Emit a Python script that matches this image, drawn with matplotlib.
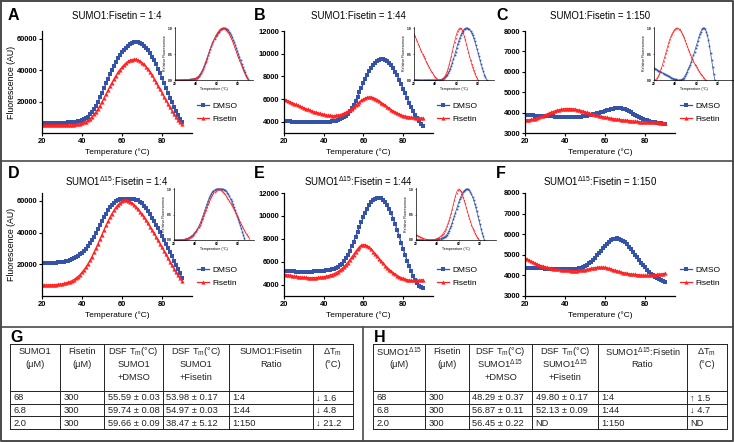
import numpy as np
import matplotlib
matplotlib.use('Agg')
import matplotlib.pyplot as plt

plt.rcParams['font.family'] = ['Liberation Sans', 'DejaVu Sans']
plt.rcParams['mathtext.fontset'] = 'custom'
plt.rcParams['mathtext.rm'] = 'Liberation Sans'
plt.rcParams['mathtext.it'] = 'Liberation Sans:italic'
plt.rcParams['mathtext.bf'] = 'Liberation Sans:bold'

W, H = 734, 442
temps = list(range(20, 91))

# ---------------- data (fluorescence, AU) ----------------
a_dmso = [6300, 6300, 6300, 6300, 6300, 6350, 6350, 6400, 6400, 6450, 6500,
          6550, 6600, 6700, 6800, 6900, 7000, 7200, 7400, 7700, 8100,
          8700, 9500, 10500, 11800, 13400, 15300, 17500, 20000, 22700, 25600,
          28600, 31600, 34600, 37500, 40300, 42900, 45300, 47500, 49500, 51300,
          52900, 54300, 55500, 56500, 57200, 57700, 57900, 57800, 57400, 56700,
          55700, 54400, 52800, 50900, 48700, 46300, 43700, 40900, 38000, 35000,
          31900, 28800, 25700, 22600, 19600, 16700, 14000, 11500, 9200, 7000]
a_fis = [4800, 4800, 4800, 4800, 4800, 4800, 4850, 4850, 4900, 4900, 4950,
         5000, 5050, 5100, 5200, 5300, 5400, 5550, 5700, 5950, 6250,
         6700, 7300, 8100, 9100, 10300, 11800, 13500, 15400, 17500, 19800,
         22200, 24700, 27200, 29700, 32100, 34400, 36600, 38600, 40400, 42000,
         43400, 44600, 45600, 46300, 46800, 47000, 46900, 46500, 45800, 44800,
         43700, 42300, 40700, 38900, 36900, 34700, 32400, 30000, 27800, 25500,
         23200, 20900, 18600, 16400, 14200, 12100, 10200, 8400, 6900, 5700]
b_dmso = [4050, 4040, 4030, 4020, 4010, 4000, 4000, 4000, 4000, 4000, 4000,
          4000, 4000, 4000, 4000, 4000, 4000, 4000, 4000, 4000, 4000,
          4000, 4000, 4010, 4020, 4040, 4080, 4130, 4200, 4290, 4400,
          4540, 4720, 4940, 5200, 5500, 5840, 6210, 6600, 7000, 7400,
          7790, 8150, 8480, 8770, 9010, 9200, 9350, 9450, 9500, 9500,
          9450, 9350, 9190, 8980, 8720, 8420, 8080, 7710, 7320, 6910,
          6490, 6070, 5660, 5270, 4910, 4580, 4290, 4040, 3830, 3660]
b_fis = [6000, 5920, 5840, 5760, 5680, 5600, 5520, 5440, 5360, 5290, 5220,
         5150, 5080, 5010, 4950, 4890, 4830, 4780, 4730, 4680, 4640,
         4600, 4570, 4550, 4540, 4540, 4550, 4570, 4610, 4660, 4730,
         4810, 4910, 5030, 5160, 5300, 5450, 5600, 5750, 5880, 6000,
         6090, 6150, 6180, 6170, 6120, 6040, 5940, 5820, 5690, 5560,
         5430, 5300, 5170, 5050, 4940, 4840, 4750, 4670, 4600, 4540,
         4490, 4450, 4420, 4390, 4370, 4350, 4340, 4330, 4320, 4320]
c_dmso = [3880, 3875, 3870, 3865, 3860, 3855, 3850, 3845, 3840, 3835, 3830,
          3825, 3820, 3815, 3810, 3805, 3800, 3795, 3790, 3790, 3785,
          3785, 3780, 3780, 3780, 3780, 3785, 3790, 3800, 3815, 3830,
          3850, 3870, 3890, 3910, 3935, 3960, 3990, 4020, 4050, 4080,
          4110, 4140, 4170, 4190, 4210, 4220, 4220, 4210, 4190, 4160,
          4120, 4070, 4010, 3950, 3890, 3830, 3780, 3730, 3690, 3650,
          3620, 3590, 3560, 3540, 3520, 3500, 3485, 3470, 3460, 3450]
c_fis = [3650, 3645, 3650, 3665, 3685, 3710, 3740, 3775, 3810, 3850, 3890,
         3930, 3970, 4010, 4050, 4085, 4115, 4140, 4160, 4180, 4190,
         4200, 4200, 4195, 4185, 4170, 4150, 4125, 4100, 4070, 4040,
         4010, 3980, 3950, 3920, 3895, 3870, 3845, 3820, 3800, 3780,
         3760, 3740, 3725, 3710, 3695, 3680, 3665, 3650, 3640, 3630,
         3620, 3610, 3600, 3590, 3580, 3570, 3560, 3555, 3550, 3545,
         3540, 3535, 3530, 3525, 3520, 3515, 3510, 3505, 3500, 3495]
d_dmso = [21000, 21000, 21000, 21000, 21000, 21000, 21050, 21100, 21200, 21300, 21500,
          21700, 22000, 22300, 22700, 23200, 23800, 24500, 25300, 26200, 27200,
          28400, 29800, 31400, 33200, 35200, 37400, 39800, 42300, 44800, 47300,
          49700, 52000, 54100, 56000, 57600, 58900, 59900, 60600, 61000, 61200,
          61300, 61300, 61300, 61300, 61200, 61100, 60800, 60300, 59500, 58400,
          57000, 55400, 53600, 51600, 49500, 47300, 45000, 42700, 40300, 37900,
          35400, 32900, 30300, 27700, 25100, 22400, 19700, 17000, 14200, 11300]
d_fis = [7000, 7000, 7000, 7000, 7050, 7100, 7150, 7250, 7350, 7500, 7700,
         7950, 8250, 8650, 9100, 9700, 10400, 11300, 12300, 13500, 14900,
         16500, 18300, 20300, 22500, 24900, 27500, 30200, 33000, 35900, 38800,
         41700, 44500, 47200, 49700, 52000, 54100, 56000, 57600, 58900, 59900,
         60400, 60500, 60200, 59600, 58700, 57600, 56300, 54800, 53200, 51500,
         49700, 47800, 45800, 43800, 41700, 39600, 37400, 35200, 33000, 30800,
         28500, 26200, 23900, 21600, 19400, 17200, 15100, 13100, 11200, 9500]
e_dmso = [5200, 5190, 5180, 5170, 5160, 5150, 5140, 5130, 5130, 5130, 5130,
          5130, 5130, 5130, 5140, 5150, 5160, 5170, 5180, 5200, 5220,
          5240, 5270, 5300, 5340, 5390, 5460, 5550, 5670, 5820, 6050,
          6300, 6600, 6950, 7330, 7740, 8170, 8610, 9050, 9480, 9890,
          10270, 10620, 10920, 11170, 11360, 11490, 11570, 11600, 11550, 11420,
          11220, 10950, 10610, 10210, 9760, 9270, 8750, 8210, 7660, 7110,
          6580, 6070, 5590, 5150, 4760, 4420, 4130, 3900, 3780, 3680]
e_fis = [4900, 4870, 4840, 4810, 4780, 4750, 4720, 4690, 4670, 4650, 4630,
         4620, 4610, 4600, 4600, 4600, 4610, 4620, 4640, 4660, 4690,
         4720, 4760, 4810, 4870, 4940, 5020, 5120, 5240, 5380, 5540,
         5720, 5920, 6140, 6380, 6620, 6870, 7100, 7300, 7440, 7500,
         7470, 7380, 7240, 7070, 6880, 6680, 6470, 6260, 6050, 5850,
         5660, 5480, 5310, 5160, 5020, 4900, 4790, 4690, 4600, 4530,
         4470, 4420, 4390, 4370, 4360, 4360, 4370, 4380, 4400, 4420]
f_dmso = [4380, 4375, 4370, 4365, 4360, 4355, 4350, 4345, 4340, 4335, 4330,
          4325, 4320, 4315, 4310, 4305, 4300, 4300, 4295, 4295, 4290,
          4290, 4290, 4295, 4300, 4310, 4325, 4345, 4375, 4410, 4460,
          4520, 4590, 4670, 4760, 4860, 4970, 5080, 5200, 5320, 5430,
          5540, 5630, 5710, 5760, 5790, 5800, 5780, 5740, 5680, 5600,
          5500, 5390, 5270, 5140, 5010, 4880, 4750, 4620, 4500, 4390,
          4280, 4180, 4090, 4010, 3940, 3880, 3830, 3780, 3740, 3700]
f_fis = [4850, 4790, 4730, 4680, 4630, 4590, 4550, 4510, 4480, 4450, 4420,
         4390, 4370, 4350, 4330, 4310, 4300, 4290, 4280, 4270, 4260,
         4250, 4240, 4230, 4230, 4230, 4230, 4240, 4250, 4260, 4280,
         4300, 4320, 4340, 4360, 4380, 4390, 4400, 4400, 4400, 4390,
         4370, 4340, 4310, 4280, 4250, 4220, 4190, 4160, 4140, 4120,
         4100, 4080, 4070, 4060, 4050, 4040, 4030, 4020, 4010, 4010,
         4010, 4010, 4020, 4030, 4040, 4050, 4060, 4070, 4085, 4100]

series_names = ['DMSO', 'Fisetin']
titles = ['SUMO1:Fisetin = 1:4', 'SUMO1:Fisetin = 1:44', 'SUMO1:Fisetin = 1:150',
          'SUMO1$^{\\Delta15}$:Fisetin = 1:4', 'SUMO1$^{\\Delta15}$:Fisetin = 1:44',
          'SUMO1$^{\\Delta15}$:Fisetin = 1:150']
letters = ['A', 'B', 'C', 'D', 'E', 'F']
yticks_big = [20000, 40000, 60000]
yticks_mid = [4000, 6000, 8000, 10000, 12000]
yticks_low = [3000, 4000, 5000, 6000, 7000, 8000]
xticks = [20, 40, 60, 80]

g_header = ['SUMO1\n(\u03bcM)', 'Fisetin\n(\u03bcM)',
            'DSF T$_\\mathrm{m}$(\u00b0C)\nSUMO1\n+DMSO',
            'DSF T$_\\mathrm{m}$(\u00b0C)\nSUMO1\n+Fisetin',
            'SUMO1:Fisetin\nRatio', '\u0394T$_\\mathrm{m}$\n(\u00b0C)']
g_rows = [['68', '300', '55.59 \u00b1 0.03', '53.98 \u00b1 0.17', '1:4', '\u2193 1.6'],
          ['6.8', '300', '59.74 \u00b1 0.08', '54.97 \u00b1 0.03', '1:44', '\u2193 4.8'],
          ['2.0', '300', '59.66 \u00b1 0.09', '38.47 \u00b1 5.12', '1:150', '\u2193 21.2']]
h_header = ['SUMO1$^{\\Delta15}$\n(\u03bcM)', 'Fisetin\n(\u03bcM)',
            'DSF T$_\\mathrm{m}$(\u00b0C)\nSUMO1$^{\\Delta15}$\n+DMSO',
            'DSF T$_\\mathrm{m}$(\u00b0C)\nSUMO1$^{\\Delta15}$\n+Fisetin',
            'SUMO1$^{\\Delta15}$:Fisetin\nRatio', '\u0394T$_\\mathrm{m}$\n(\u00b0C)']
h_rows = [['68', '300', '48.29 \u00b1 0.37', '49.80 \u00b1 0.17', '1:4', '\u2191 1.5'],
          ['6.8', '300', '56.87 \u00b1 0.11', '52.13 \u00b1 0.09', '1:44', '\u2193 4.7'],
          ['2.0', '300', '56.45 \u00b1 0.22', 'ND', '1:150', 'ND']]

# ---------------- layout ----------------
BLUE = '#3352a8'
RED = '#ff2323'

fig = plt.figure(figsize=(W / 100, H / 100), dpi=100)


def px_axes(left, top, right, bottom):
    return fig.add_axes([left / W, 1 - bottom / H, (right - left) / W, (bottom - top) / H])


def norm(v):
    v = np.asarray(v, float)
    k = int(np.argmax(v))
    mn = v[:k + 1].min()
    return (v - mn) / (v[k] - mn)


col_left = [42, 284, 525]
col_right = [192, 433, 675]
row_top = [31, 193]
row_bot = [133, 296]
title_y = [16, 181]
letter_y = [15, 174]
letter_x = [8, 254, 496]
legend_y = [[107, 121], [271, 284]]
legend_x = [197, 437, 680]
inset_boxes = [(175, 27, 253, 80), (414, 27, 494, 80), (654, 27, 734, 80),
               (174, 188, 254, 240), (416, 188, 496, 240), None]
panels = [(a_dmso, a_fis, (0, 65000), yticks_big),
          (b_dmso, b_fis, (3000, 12000), yticks_mid),
          (c_dmso, c_fis, (3000, 8000), yticks_low),
          (d_dmso, d_fis, (0, 65000), yticks_big),
          (e_dmso, e_fis, (3000, 12000), yticks_mid),
          (f_dmso, f_fis, (3000, 8000), yticks_low)]

ov = fig.add_axes([0, 0, 1, 1])
ov.set_xlim(0, W)
ov.set_ylim(H, 0)
ov.axis('off')

for i, (dm, fi, ylim, yt) in enumerate(panels):
    r, c = divmod(i, 3)
    L, R, T, B = col_left[c], col_right[c], row_top[r], row_bot[r]
    ax = px_axes(L, T, R, B)
    ax.patch.set_alpha(0)
    l1, = ax.plot(temps, dm, color=BLUE, marker='s', ms=2.9, mew=0, lw=0.9, label=series_names[0])
    l2, = ax.plot(temps, fi, color=RED, marker='^', ms=3.0, mew=0, lw=0.9, label=series_names[1])
    ax.set_xlim(20, 95)
    ax.set_ylim(*ylim)
    for s in ['top', 'right']:
        ax.spines[s].set_visible(False)
    for s in ['left', 'bottom']:
        ax.spines[s].set_linewidth(0.9)
    ax.set_xticks(xticks, [str(t) for t in xticks], fontweight='bold')
    ax.set_yticks(yt, [str(t) for t in yt], fontweight='bold')
    ax.tick_params(labelsize=5.4, length=2.5, width=0.8, pad=1)
    ax.set_xlabel('Temperature (\u00b0C)', fontsize=6)
    ax.xaxis.set_label_coords(0.5, -19 / (B - T))
    ax.xaxis.label.set_va('center')
    if c == 0:
        ax.set_ylabel('Fluorescence (AU)', fontsize=6.3)
        ax.yaxis.set_label_coords((12 - L) / (R - L), 0.5)
        ax.yaxis.label.set_va('center')
    ov.text((L + R) / 2, title_y[r], titles[i], fontsize=6.9, ha='center', va='center')
    ov.text(letter_x[c], letter_y[r], letters[i], fontsize=11.5, fontweight='bold',
            ha='left', va='center')
    ax.legend(handles=[l1, l2], loc='upper left',
              bbox_to_anchor=(legend_x[c] / W, 1 - (legend_y[r][0] - 5) / H),
              bbox_transform=fig.transFigure, frameon=False, fontsize=6,
              handlelength=1.4, handletextpad=0.5, labelspacing=0.6,
              borderpad=0, borderaxespad=0, markerscale=1.0)

    box = inset_boxes[i]
    if box is not None:
        ia = px_axes(*box)
        ia.patch.set_alpha(0)
        ia.plot(temps, norm(dm), color=BLUE, marker='s', ms=1.2, mew=0, lw=0.5)
        ia.plot(temps, norm(fi), color=RED, marker='^', ms=1.3, mew=0, lw=0.5)
        ia.set_xlim(20, 95)
        ia.set_ylim(0, 1.02)
        for s in ['top', 'right']:
            ia.spines[s].set_visible(False)
        for s in ['left', 'bottom']:
            ia.spines[s].set_linewidth(0.5)
        ia.set_xticks(xticks, [str(t) for t in xticks], fontweight='bold')
        ia.set_yticks([0, 0.5, 1.0], ['0.0', '0.5', '1.0'], fontweight='bold')
        ia.tick_params(labelsize=2.4, length=1, width=0.4, pad=0.6)
        ia.set_xlabel('Temperature (\u00b0C)', fontsize=2.6, labelpad=0.8)
        ia.set_ylabel('Relative Fluorescence', fontsize=2.6, labelpad=0.8)

# ---------------- tables ----------------
def draw_table(xe, ye, header, rows):
    for x in xe:
        ov.plot([x, x], [ye[0], ye[-1]], color='#222222', lw=0.7)
    for y in ye:
        ov.plot([xe[0], xe[-1]], [y, y], color='#222222', lw=0.7)
    for j, txt in enumerate(header):
        for k, line in enumerate(txt.split('\n')):
            ov.text((xe[j] + xe[j + 1]) / 2, ye[0] + 8 + 12.5 * k, line, fontsize=6.7,
                    ha='center', va='center', color='#222222')
    for k, row in enumerate(rows):
        yc = (ye[k + 1] + ye[k + 2]) / 2
        for j, txt in enumerate(row):
            ov.text(xe[j] + 3.5, yc + 0.5, txt, fontsize=6.7, ha='left', va='center',
                    color='#222222')


ty = [344, 391, 404, 416, 429]
draw_table([10, 60, 104, 163, 229, 313, 353], ty, g_header, g_rows)
draw_table([373, 425, 469, 532, 598, 687, 727], ty, h_header, h_rows)
ov.text(10, 337, 'G', fontsize=11.5, fontweight='bold', ha='left', va='center')
ov.text(374, 337, 'H', fontsize=11.5, fontweight='bold', ha='left', va='center')

# ---------------- frame / separators ----------------
FR = '#4a4a4a'
ov.plot([0.8, W - 0.8, W - 0.8, 0.8, 0.8], [0.8, 0.8, H - 0.8, H - 0.8, 0.8], color=FR, lw=1.4)
ov.plot([0, W], [161, 161], color=FR, lw=1.2)
ov.plot([0, W], [327, 327], color=FR, lw=1.2)
ov.plot([363, 363], [327, H], color=FR, lw=1.2)

fig.savefig('out.png', dpi=100)
